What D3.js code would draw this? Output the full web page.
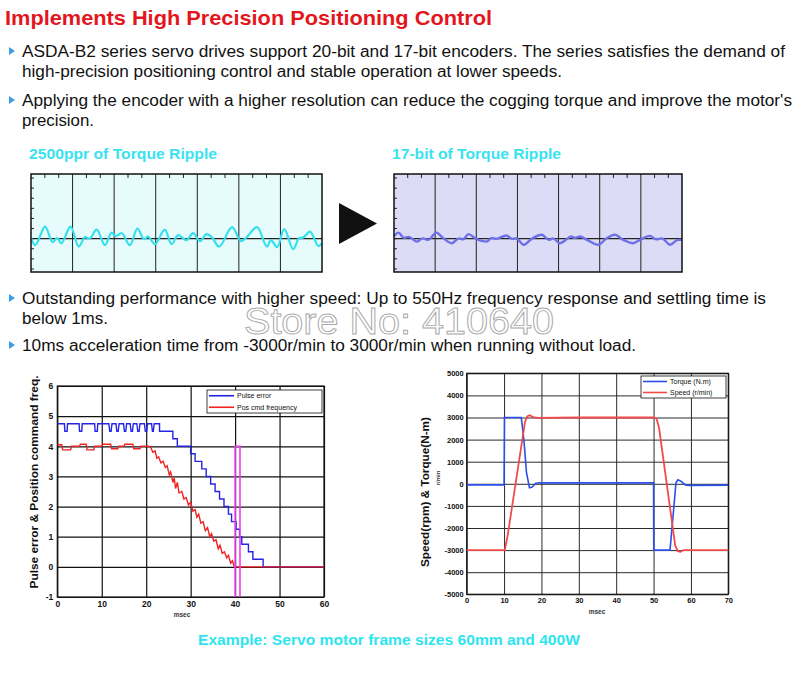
<!DOCTYPE html>
<html>
<head>
<meta charset="utf-8">
<script src="https://cdn.jsdelivr.net/npm/d3@7"></script>
<style>
  body { margin: 0; background: #fff; }
  svg { display: block; font-family: "Liberation Sans", Arial, sans-serif; }
</style>
</head>
<body>
<svg id="chart" width="800" height="676"></svg>
<script>
// ---- text ----
const titleText = 'Implements High Precision Positioning Control';
const bodyLines = [
  'ASDA-B2 series servo drives support 20-bit and 17-bit encoders. The series satisfies the demand of',
  'high-precision positioning control and stable operation at lower speeds.',
  'Applying the encoder with a higher resolution can reduce the cogging torque and improve the motor\'s',
  'precision.',
  'Outstanding performance with higher speed: Up to 550Hz frequency response and settling time is',
  'below 1ms.',
  '10ms acceleration time from -3000r/min to 3000r/min when running without load.',
];
const bulletRows = [0, 2, 4, 6];
const watermarkText = 'Store No: 410640';
const captionText = 'Example: Servo motor frame sizes 60mm and 400W';

// ---- ripple panels (x in grid divisions, y in ripple units) ----
const rippleTitles = ['2500ppr of Torque Ripple', '17-bit of Torque Ripple'];
const ripple2500 = [
  [0, 0.05], [0.1, -0.64], [0.34, 1.19], [0.52, -0.35], [0.63, 0.05], [0.73, -0.45],
  [0.95, 1.19], [1.15, -0.79], [1.3, 0.15], [1.4, 0], [1.58, 0.89], [1.78, -0.64],
  [1.94, 0.59], [2.04, 0.25], [2.18, 0.54], [2.38, -0.64], [2.56, 0.99], [2.72, -0.05],
  [2.81, 0.2], [2.98, -0.54], [3.22, 0.89], [3.38, -0.54], [3.54, 0.35], [3.74, -0.15],
  [3.9, 0.54], [4.07, -0.25], [4.22, 0.45], [4.35, 0.15], [4.52, -0.79], [4.84, 1.14],
  [5.05, -0.25], [5.15, 0], [5.44, 1.14], [5.68, -0.79], [5.77, -0.15], [5.92, -0.84],
  [6.09, 0.94], [6.31, -1.04], [6.45, 0.05], [6.54, 0.1], [6.71, 0.69], [6.92, -0.74],
  [7, -0.45],
];
const ripple17bit = [
  [0, 0.23], [0.11, 0.6], [0.24, 0.08], [0.36, 0.18], [0.55, -0.29], [0.7, 0.03],
  [0.83, -0.12], [1.03, 0.6], [1.19, 0.08], [1.4, -0.45], [1.58, 0.03], [1.68, -0.07],
  [1.81, 0.45], [1.99, -0.02], [2.25, -0.29], [2.38, 0.08], [2.48, -0.02], [2.73, 0.31],
  [2.87, -0.02], [2.97, 0.03], [3.15, -0.61], [3.33, -0.07], [3.59, 0.38], [3.77, -0.12],
  [3.86, 0.03], [4.03, -0.45], [4.21, -0.02], [4.3, 0.23], [4.4, 0.08], [4.52, 0.21],
  [4.69, -0.12], [4.97, -0.61], [5.15, -0.02], [5.37, 0.38], [5.57, -0.12], [5.81, -0.45],
  [5.98, -0.12], [6.22, 0.28], [6.37, -0.07], [6.51, 0.03], [6.71, -0.61], [6.9, -0.12],
  [7, -0.12],
];
const rippleDivs = 7;
const rippleRange = [-3.3, 6.4];

// ---- left scope: pulse error & pos cmd frequency vs msec ----
const scopeAXTicks = [0, 10, 20, 30, 40, 50, 60];
const scopeAYTicks = [-1, 0, 1, 2, 3, 4, 5, 6];
const scopeALegend = ['Pulse error', 'Pos cmd frequency'];
const pulseError = [
  [0, 4.75], [1.6, 4.75], [1.7, 4.5], [2.2, 4.5], [2.3, 4.75], [4.9, 4.75], [5, 4.5],
  [5.5, 4.5], [5.6, 4.75], [8.4, 4.75], [8.5, 4.5], [9, 4.5], [9.1, 4.75], [11.6, 4.75],
  [11.8, 4.5], [12.1, 4.5], [12.3, 4.75], [13.2, 4.75], [13.4, 4.5], [13.7, 4.5], [13.9, 4.75],
  [14.9, 4.75], [15.1, 4.5], [15.4, 4.5], [15.6, 4.75], [16.4, 4.75], [16.6, 4.5], [16.9, 4.5],
  [17.1, 4.75], [17.9, 4.75], [18.1, 4.5], [18.4, 4.5], [18.6, 4.75], [19.6, 4.75], [19.8, 4.5],
  [20.1, 4.5], [20.3, 4.75], [21.2, 4.75], [21.4, 4.5], [21.6, 4.5], [21.8, 4.75], [23, 4.75],
  [23, 4.5], [26, 4.5], [26, 4.25], [27, 4.25], [27, 4], [30, 4], [30, 3.75], [31, 3.75],
  [31, 3.5], [32.5, 3.5], [32.5, 3.25], [33.5, 3.25], [33.5, 3], [34.5, 3], [34.5, 2.75],
  [35.5, 2.75], [35.5, 2.5], [36.5, 2.5], [36.5, 2.25], [37.5, 2.25], [37.5, 2], [38.5, 2],
  [38.5, 1.75], [39.2, 1.75], [39.2, 1.5], [40.2, 1.5], [40.2, 1.25], [41, 1.25], [41, 1],
  [41.5, 1], [41.5, 0.75], [43, 0.75], [43, 0.5], [44, 0.5], [44, 0.25], [46.3, 0.25],
  [46.3, 0], [60, 0],
];
const posCmdFreq = [
  [0, 4.05], [1, 4.05], [1.2, 3.88], [3, 3.88], [3.2, 4], [5, 4], [5.2, 4.07], [6.5, 4.07],
  [6.7, 3.88], [8.2, 3.88], [8.4, 4], [10, 4], [10.2, 4.07], [12, 4.07], [12.2, 3.92],
  [13.6, 3.92], [13.8, 4], [15, 4], [15.2, 4.07], [17, 4.07], [17.2, 3.92], [18.6, 3.92],
  [18.8, 4], [20.5, 4], [21, 3.97], [21.5, 3.8], [22, 3.85], [22.4, 3.6], [22.8, 3.65],
  [23.3, 3.45], [23.8, 3.5], [24.3, 3.3], [24.7, 3.35], [25.2, 3.05], [25.5, 3.15], [26, 2.8],
  [26.3, 2.95], [26.6, 2.6], [27, 2.8], [27.4, 2.45], [28, 2.5], [28.5, 2.25], [29, 2.3],
  [29.5, 2.05], [30, 2.15], [30.5, 1.85], [31, 1.9], [31.4, 1.65], [31.8, 1.75], [32.3, 1.45],
  [32.8, 1.5], [33.3, 1.2], [33.8, 1.3], [34.3, 1], [34.7, 1.1], [35.2, 0.85], [35.7, 0.9],
  [36.2, 0.6], [36.6, 0.72], [37.1, 0.45], [37.6, 0.5], [38.1, 0.3], [38.5, 0.38], [39, 0.12],
  [39.4, 0.2], [39.8, 0.02], [40, 0], [60, 0],
];
const settleMarker = [[40, -1], [40, 4], [41.1, 4], [41.1, -1]];

// ---- right scope: speed & torque vs msec ----
const scopeBXTicks = [0, 10, 20, 30, 40, 50, 60, 70];
const scopeBYTicks = [-5000, -4000, -3000, -2000, -1000, 0, 1000, 2000, 3000, 4000, 5000];
const scopeBLegend = ['Torque (N.m)', 'Speed (r/min)'];
const torque = [
  [0, -50], [10, -50], [10.1, 3000], [14.6, 3000], [15.3, 2000], [16, 500], [16.8, -180],
  [17.5, -150], [18.5, 30], [19.5, 50], [30, 40], [50, 40], [50.05, -3000], [54.4, -3000],
  [55.2, -1500], [56, 50], [56.5, 180], [57.3, 120], [58.5, -50], [59.5, -70], [70, -60],
];
const speed = [
  [0, -3000], [10.2, -3000], [11, -2300], [15.6, 2800], [16.2, 3050], [16.8, 3100],
  [17.8, 3020], [19, 2980], [30, 3000], [50, 3000], [50.8, 2950], [51.5, 2500],
  [55.8, -2800], [56.5, -3050], [57.2, -3080], [58, -3000], [70, -3000],
];

const svg = d3.select('#chart');

// ---- heading and paragraph text ----
svg.append('text')
  .attr('x', 5)
  .attr('y', 25)
  .attr('fill', '#e3161d')
  .attr('font-family', '"Liberation Sans Narrow", "Liberation Sans", Arial, sans-serif')
  .attr('font-size', 21)
  .attr('font-weight', 'bold')
  .attr('textLength', 487)
  .attr('lengthAdjust', 'spacingAndGlyphs')
  .text(titleText);

const lineY = [57, 77, 106, 126, 304, 324, 351];
const lineW = [763, 540, 770, 72, 744, 86, 614];

svg.append('g')
  .selectAll('text')
  .data(bodyLines)
  .join('text')
  .attr('x', 22)
  .attr('y', (d, i) => lineY[i])
  .attr('font-size', 16)
  .attr('fill', '#111')
  .attr('textLength', (d, i) => lineW[i])
  .attr('lengthAdjust', 'spacingAndGlyphs')
  .text(d => d);

svg.append('g')
  .selectAll('path')
  .data(bulletRows)
  .join('path')
  .attr('d', i => `M9,${lineY[i] - 10}L15,${lineY[i] - 6}L9,${lineY[i] - 2}Z`)
  .attr('fill', '#3b9fe6');

// watermark (outlined, sits between the two paragraph blocks)
svg.append('text')
  .attr('x', 244)
  .attr('y', 334)
  .attr('font-size', 36)
  .attr('fill', '#fff')
  .attr('stroke', '#a8a8a8')
  .attr('stroke-width', 0.9)
  .attr('textLength', 310)
  .attr('lengthAdjust', 'spacingAndGlyphs')
  .text(watermarkText);

// ---- ripple panels ----
function drawRipple({ x0, y0, w, h, fill, lineColor, lineWidth, title, titleW, data }) {
  const x = d3.scaleLinear().domain([0, rippleDivs]).range([x0, x0 + w]);
  const y = d3.scaleLinear().domain(rippleRange).range([y0 + h, y0]);
  const g = svg.append('g');

  g.append('text')
    .attr('x', x0 - 2)
    .attr('y', y0 - 15)
    .attr('font-size', 14)
    .attr('font-weight', 'bold')
    .attr('fill', '#3ae2f0')
    .attr('textLength', titleW)
    .attr('lengthAdjust', 'spacingAndGlyphs')
    .text(title);

  g.append('rect')
    .attr('x', x0).attr('y', y0).attr('width', w).attr('height', h)
    .attr('fill', fill);

  g.selectAll('.grid')
    .data(d3.range(1, rippleDivs))
    .join('line')
    .attr('class', 'grid')
    .attr('x1', d => x(d)).attr('x2', d => x(d))
    .attr('y1', y0).attr('y2', y0 + h)
    .attr('stroke', '#222')
    .attr('stroke-width', 1);

  g.selectAll('.tick-top')
    .data(d3.range(1, rippleDivs * 3).filter(d => d % 3 !== 0).map(d => d / 3))
    .join('line')
    .attr('class', 'tick-top')
    .attr('x1', d => x(d)).attr('x2', d => x(d))
    .attr('y1', y0).attr('y2', y0 + 4)
    .attr('stroke', '#222');

  g.selectAll('.tick-left')
    .data(d3.range(-3, 7))
    .join('line')
    .attr('class', 'tick-left')
    .attr('x1', x0).attr('x2', x0 + 3)
    .attr('y1', d => y(d)).attr('y2', d => y(d))
    .attr('stroke', '#222');

  g.append('line')
    .attr('x1', x0).attr('x2', x0 + w)
    .attr('y1', y(0)).attr('y2', y(0))
    .attr('stroke', '#222')
    .attr('stroke-width', 1.2);

  g.append('path')
    .datum(data)
    .attr('fill', 'none')
    .attr('stroke', lineColor)
    .attr('stroke-width', lineWidth)
    .attr('d', d3.line().x(d => x(d[0])).y(d => y(d[1])).curve(d3.curveMonotoneX));

  g.append('rect')
    .attr('x', x0).attr('y', y0).attr('width', w).attr('height', h)
    .attr('fill', 'none')
    .attr('stroke', '#111')
    .attr('stroke-width', 1.5);
}

drawRipple({
  x0: 31, y0: 174, w: 291, h: 98,
  fill: '#e6fbfb', lineColor: '#35e0ee', lineWidth: 2.2,
  title: rippleTitles[0], titleW: 188, data: ripple2500,
});
drawRipple({
  x0: 394, y0: 174, w: 288, h: 98,
  fill: '#dcdcf6', lineColor: '#6f70e6', lineWidth: 2.4,
  title: rippleTitles[1], titleW: 169, data: ripple17bit,
});

svg.append('path')
  .attr('d', 'M339,203L377,223.5L339,244Z')
  .attr('fill', '#111');

// ---- oscilloscope plots ----
function drawScope(opts) {
  const {
    left, top, right, bottom, xDomain, yDomain, xTicks, yTicks,
    gridColor, gridWidth, series, legend, legendBox,
  } = opts;
  const x = d3.scaleLinear().domain(xDomain).range([left, right]);
  const y = d3.scaleLinear().domain(yDomain).range([bottom, top]);
  const g = svg.append('g');

  const styleAxis = (a) => {
    a.select('.domain').remove();
    a.attr('font-family', null).attr('font-size', null);
    a.selectAll('line').attr('stroke', gridColor).attr('stroke-width', gridWidth);
    a.selectAll('text')
      .attr('font-size', opts.tickFont)
      .attr('font-weight', 'bold')
      .attr('fill', '#111');
  };

  g.append('g')
    .attr('transform', `translate(0,${bottom})`)
    .call(d3.axisBottom(x).tickValues(xTicks).tickSize(-(bottom - top)).tickPadding(3.5)
      .tickFormat(d => String(d)))
    .call(styleAxis);

  g.append('g')
    .attr('transform', `translate(${left},0)`)
    .call(d3.axisLeft(y).tickValues(yTicks).tickSize(-(right - left)).tickPadding(opts.yPad)
      .tickFormat(d => String(d)))
    .call(styleAxis);

  g.append('rect')
    .attr('x', left).attr('y', top).attr('width', right - left).attr('height', bottom - top)
    .attr('fill', 'none')
    .attr('stroke', '#111')
    .attr('stroke-width', 1.2);

  const line = d3.line().x(d => x(d[0])).y(d => y(d[1]));
  series.forEach((s) => {
    g.append('path')
      .datum(s.data)
      .attr('fill', 'none')
      .attr('stroke', s.color)
      .attr('stroke-width', s.width)
      .attr('d', line);
  });

  if (opts.marker) {
    g.append('path')
      .datum(opts.marker)
      .attr('fill', 'none')
      .attr('stroke', '#f03cf0')
      .attr('stroke-width', 1.6)
      .attr('d', line);
  }

  // legend
  const lg = g.append('g');
  lg.append('rect')
    .attr('x', legendBox.x).attr('y', legendBox.y)
    .attr('width', legendBox.w).attr('height', legendBox.h)
    .attr('fill', '#fff')
    .attr('stroke', '#111')
    .attr('stroke-width', 0.8);
  legend.forEach((name, i) => {
    const ly = legendBox.y + legendBox.h * (i * 2 + 1) / 4;
    lg.append('line')
      .attr('x1', legendBox.x + 2).attr('x2', legendBox.x + legendBox.lineW)
      .attr('y1', ly).attr('y2', ly)
      .attr('stroke', series[i].color)
      .attr('stroke-width', 1.6);
    lg.append('text')
      .attr('x', legendBox.x + legendBox.lineW + 3)
      .attr('y', ly + 2.5)
      .attr('font-size', 7)
      .attr('fill', '#111')
      .text(name);
  });

  g.append('text')
    .attr('x', opts.xLabelX)
    .attr('y', bottom + 20)
    .attr('text-anchor', 'middle')
    .attr('font-size', 6.5)
    .attr('font-weight', 'bold')
    .attr('fill', '#333')
    .text('msec');

  g.append('text')
    .attr('transform', `translate(${opts.yLabel.x},${opts.yLabel.y}) rotate(-90)`)
    .attr('text-anchor', 'middle')
    .attr('font-size', 11)
    .attr('font-weight', 'bold')
    .attr('fill', '#111')
    .attr('textLength', opts.yLabel.len)
    .attr('lengthAdjust', 'spacingAndGlyphs')
    .text(opts.yLabel.text);

  return g;
}

drawScope({
  left: 57.3, top: 386, right: 324, bottom: 597,
  xDomain: [0, 60], yDomain: [-1, 6], xTicks: scopeAXTicks, yTicks: scopeAYTicks,
  gridColor: '#111', gridWidth: 1.2, yPad: 4, tickFont: 8.5,
  series: [
    { data: pulseError, color: '#2424e6', width: 1.4 },
    { data: posCmdFreq, color: '#f02222', width: 1.4 },
  ],
  marker: settleMarker,
  legend: scopeALegend,
  legendBox: { x: 207, y: 390, w: 115, h: 23, lineW: 27 },
  xLabelX: 182,
  yLabel: { x: 38, y: 482, len: 213, text: 'Pulse error & Position command freq.' },
});

const scopeB = drawScope({
  left: 466.7, top: 373.3, right: 728.3, bottom: 594.3,
  xDomain: [0, 70], yDomain: [-5000, 5000], xTicks: scopeBXTicks, yTicks: scopeBYTicks,
  gridColor: '#2a2a2a', gridWidth: 1, yPad: 3, tickFont: 7.5,
  series: [
    { data: torque, color: '#2a4ee8', width: 1.6 },
    { data: speed, color: '#f24a4a', width: 1.8 },
  ],
  legend: scopeBLegend,
  legendBox: { x: 641, y: 376, w: 85, h: 22, lineW: 26 },
  xLabelX: 597,
  yLabel: { x: 429, y: 492, len: 150, text: 'Speed(rpm) & Torque(N-m)' },
});

scopeB.append('text')
  .attr('transform', 'translate(440,478) rotate(-90)')
  .attr('text-anchor', 'middle')
  .attr('font-size', 6)
  .attr('font-weight', 'bold')
  .attr('fill', '#333')
  .text('r/min');

// caption
svg.append('text')
  .attr('x', 198)
  .attr('y', 645)
  .attr('font-size', 14.5)
  .attr('font-weight', 'bold')
  .attr('fill', '#2ee4ef')
  .attr('textLength', 382)
  .attr('lengthAdjust', 'spacingAndGlyphs')
  .text(captionText);
</script>
</body>
</html>
